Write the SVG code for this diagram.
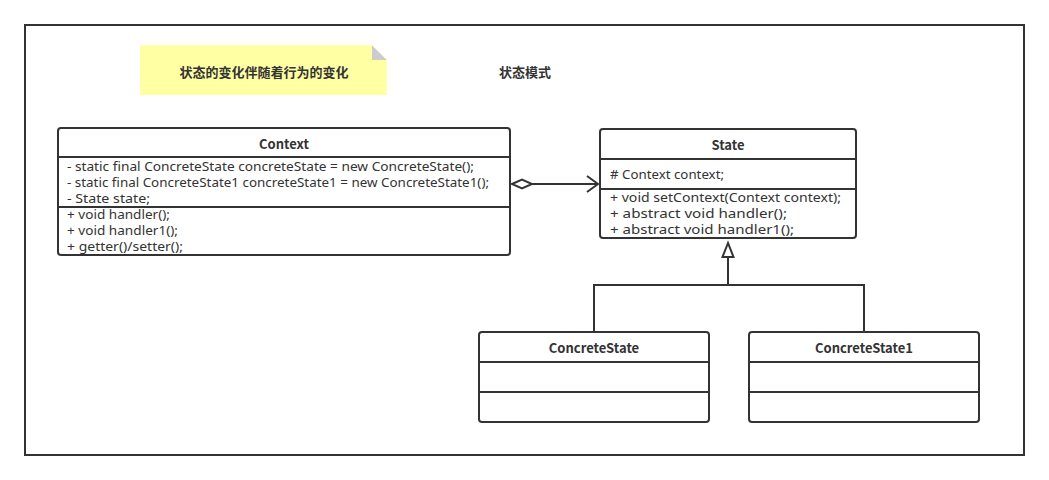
<svg xmlns="http://www.w3.org/2000/svg" width="1049" height="480" viewBox="0 0 1049 480">
<style>
.box{fill:#fff;stroke:#333;stroke-width:2}
.ln{stroke:#333;stroke-width:2;fill:none}
.t{font-family:"Noto Sans","Liberation Sans",sans-serif;font-size:13px;fill:#333}
.b{font-family:"Noto Sans CJK SC","Noto Sans",sans-serif;font-size:13px;font-weight:bold;fill:#333;text-anchor:middle}
.cn{font-family:"Noto Sans CJK SC",sans-serif;font-size:13px;font-weight:bold;fill:#333;text-anchor:middle}
</style>
<rect x="0" y="0" width="1049" height="480" fill="#fff"/>
<rect x="25" y="25" width="999" height="430" fill="#fff" stroke="#333" stroke-width="2"/>
<g id="note">
<polygon points="140,45 372,45 387,60 387,95 140,95" fill="#ffff99" fill-opacity="0.9"/>
<polygon points="372,45 387,60 372,60" fill="#ccc"/>
<polygon points="372,45 387,45 387,60" fill="#fff"/>
<text class="cn" x="264" y="77">状态的变化伴随着行为的变化</text>
</g>
<g id="title">
<text class="cn" x="525" y="77">状态模式</text>
</g>
<g id="context">
<rect class="box" x="58" y="128" width="452" height="127" rx="3"/>
<line class="ln" x1="58" y1="157" x2="510" y2="157"/>
<line class="ln" x1="58" y1="207" x2="510" y2="207"/>
<text class="b" x="284" y="149">Context</text>
<text class="t" x="67" y="171" textLength="407" lengthAdjust="spacingAndGlyphs">- static final ConcreteState concreteState = new ConcreteState();</text>
<text class="t" x="67" y="187" textLength="422" lengthAdjust="spacingAndGlyphs">- static final ConcreteState1 concreteState1 = new ConcreteState1();</text>
<text class="t" x="67" y="203" textLength="83" lengthAdjust="spacingAndGlyphs">- State state;</text>
<text class="t" x="67" y="219" textLength="103" lengthAdjust="spacingAndGlyphs">+ void handler();</text>
<text class="t" x="67" y="235" textLength="111" lengthAdjust="spacingAndGlyphs">+ void handler1();</text>
<text class="t" x="67" y="251" textLength="116" lengthAdjust="spacingAndGlyphs">+ getter()/setter();</text>
</g>
<g id="state">
<rect class="box" x="600" y="129" width="256" height="109" rx="3"/>
<line class="ln" x1="600" y1="159" x2="856" y2="159"/>
<line class="ln" x1="600" y1="189" x2="856" y2="189"/>
<text class="b" x="728" y="150">State</text>
<text class="t" x="610" y="179" textLength="114" lengthAdjust="spacingAndGlyphs"># Context context;</text>
<text class="t" x="610" y="202" textLength="231" lengthAdjust="spacingAndGlyphs">+ void setContext(Context context);</text>
<text class="t" x="610" y="218" textLength="177" lengthAdjust="spacingAndGlyphs">+ abstract void handler();</text>
<text class="t" x="610" y="234" textLength="184" lengthAdjust="spacingAndGlyphs">+ abstract void handler1();</text>
</g>
<g id="concreteState">
<rect class="box" x="479" y="332" width="230" height="90" rx="3"/>
<line class="ln" x1="479" y1="362" x2="709" y2="362"/>
<line class="ln" x1="479" y1="392" x2="709" y2="392"/>
<text class="b" x="594" y="353">ConcreteState</text>
</g>
<g id="concreteState1">
<rect class="box" x="749" y="332" width="230" height="90" rx="3"/>
<line class="ln" x1="749" y1="362" x2="979" y2="362"/>
<line class="ln" x1="749" y1="392" x2="979" y2="392"/>
<text class="b" x="864" y="353">ConcreteState1</text>
</g>
<g id="connectors">
<line class="ln" x1="531" y1="184" x2="598" y2="184"/>
<polygon points="512,184 522,179.5 532,184 522,188.5" fill="#fff" stroke="#333" stroke-width="2"/>
<polyline class="ln" points="587,176 598,184 587,192"/>
<polyline class="ln" points="594,332 594,285 864,285 864,332"/>
<line class="ln" x1="728" y1="285" x2="728" y2="258"/>
<polygon points="728,243 722.5,257 733.5,257" fill="#fff" stroke="#333" stroke-width="2"/>
</g>
</svg>
